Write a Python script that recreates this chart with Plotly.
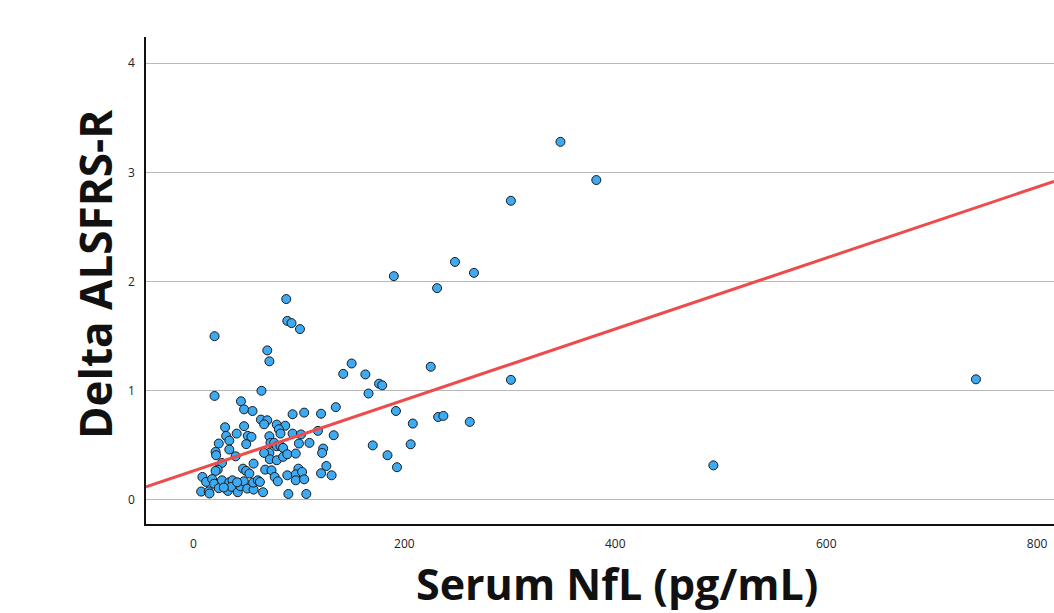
import plotly.graph_objects as go

# Serum neurofilament light (pg/mL) and change in ALSFRS-R per patient
nfl = [
    348, 382, 301, 248, 266, 190, 231, 88, 89, 93, 101, 20, 70, 72, 150, 225,
    142, 163, 176, 179, 301, 742, 493, 166, 192, 208, 232, 237, 262, 170, 206,
    184, 193, 135, 20, 64.5, 45, 48, 56, 94, 105, 121, 64, 70, 67, 30, 48, 79,
    87, 81, 82.5, 31, 34, 41, 51.5, 55, 50, 72, 73, 94, 102, 118, 133, 24, 34,
    21, 21.5, 76.5, 79, 82.5, 85, 100, 110, 123, 122, 72, 67, 72.4, 79, 85, 89,
    97, 40, 27, 23, 21, 57, 68, 74, 77, 80, 89, 99.5, 97, 103, 97, 105, 126,
    121, 131, 90, 107, 8.5, 12, 17.7, 19.6, 7.3, 14.5, 15.2, 24, 27, 32.6, 34,
    37, 36, 42, 44.5, 47.7, 47, 50, 53, 51, 57, 56.6, 61, 63, 66, 41.4, 28.8,
]
delta_alsfrs = [
    3.28, 2.93, 2.74, 2.18, 2.08, 2.05, 1.94, 1.84, 1.64, 1.62, 1.565, 1.50,
    1.37, 1.27, 1.25, 1.22, 1.155, 1.15, 1.065, 1.05, 1.10, 1.105, 0.317,
    0.975, 0.815, 0.70, 0.76, 0.77, 0.715, 0.50, 0.51, 0.41, 0.30, 0.85, 0.953,
    1.00, 0.904, 0.83, 0.815, 0.785, 0.80, 0.79, 0.736, 0.73, 0.693, 0.666,
    0.676, 0.69, 0.68, 0.648, 0.608, 0.587, 0.544, 0.608, 0.587, 0.578, 0.511,
    0.584, 0.523, 0.608, 0.60, 0.633, 0.593, 0.517, 0.462, 0.44, 0.41, 0.523,
    0.492, 0.495, 0.477, 0.517, 0.523, 0.471, 0.431, 0.431, 0.431, 0.373,
    0.364, 0.395, 0.419, 0.425, 0.40, 0.339, 0.278, 0.266, 0.333, 0.278, 0.272,
    0.211, 0.171, 0.226, 0.287, 0.235, 0.257, 0.18, 0.189, 0.311, 0.244, 0.226,
    0.055, 0.055, 0.211, 0.165, 0.192, 0.149, 0.077, 0.079, 0.059, 0.108, 0.18,
    0.083, 0.162, 0.18, 0.12, 0.071, 0.126, 0.171, 0.287, 0.266, 0.242, 0.104,
    0.095, 0.159, 0.18, 0.165, 0.071, 0.162, 0.114,
]

# linear fit reported for the full cohort
fit_intercept = 0.266
fit_slope = 0.00325

x_range = [-45, 816]
y_range = [-0.22, 4.24]
x_ticks = [0, 200, 400, 600, 800]
y_ticks = [0, 1, 2, 3, 4]

fit_x = list(x_range)
fit_y = [fit_intercept + fit_slope * v for v in fit_x]

fig = go.Figure()
fig.add_trace(go.Scatter(
    x=nfl, y=delta_alsfrs, mode="markers",
    marker=dict(size=9, color="#3daaf4", line=dict(color="#1a1a1a", width=1)),
    showlegend=False, cliponaxis=False,
))
fig.add_trace(go.Scatter(
    x=fit_x, y=fit_y, mode="lines",
    line=dict(color="#ec4c4c", width=3),
    showlegend=False,
))

tick_font = dict(family="Open Sans, Arial, sans-serif", size=12, color="#222")
title_font = dict(family="Open Sans, sans-serif", size=43, color="#111")
fig.update_layout(
    width=1054, height=613,
    margin=dict(l=146, r=0, t=37, b=89),
    paper_bgcolor="white", plot_bgcolor="white",
    xaxis=dict(
        range=x_range, tickvals=x_ticks, showgrid=False, zeroline=False,
        showline=True, linecolor="#111", linewidth=1.5,
        ticks="", ticklabelstandoff=8, tickfont=tick_font,
    ),
    yaxis=dict(
        range=y_range, tickvals=y_ticks, showgrid=True, gridcolor="#b8b8b8",
        gridwidth=1, zeroline=False,
        showline=True, linecolor="#111", linewidth=1.5,
        ticks="", ticklabelstandoff=7, tickfont=tick_font,
    ),
    annotations=[
        dict(text="<b>Serum NfL (pg/mL)</b>", xref="paper", yref="paper",
             x=(617 - 146) / 908, y=(524 - 583) / 487, showarrow=False,
             xanchor="center", yanchor="middle", font=title_font),
        dict(text="<b>Delta ALSFRS-R</b>", xref="paper", yref="paper",
             x=(95 - 146) / 908, y=(524 - 274) / 487, showarrow=False,
             textangle=-90, xanchor="center", yanchor="middle",
             font=dict(title_font, size=44)),
    ],
)

fig.write_html("out.html")
